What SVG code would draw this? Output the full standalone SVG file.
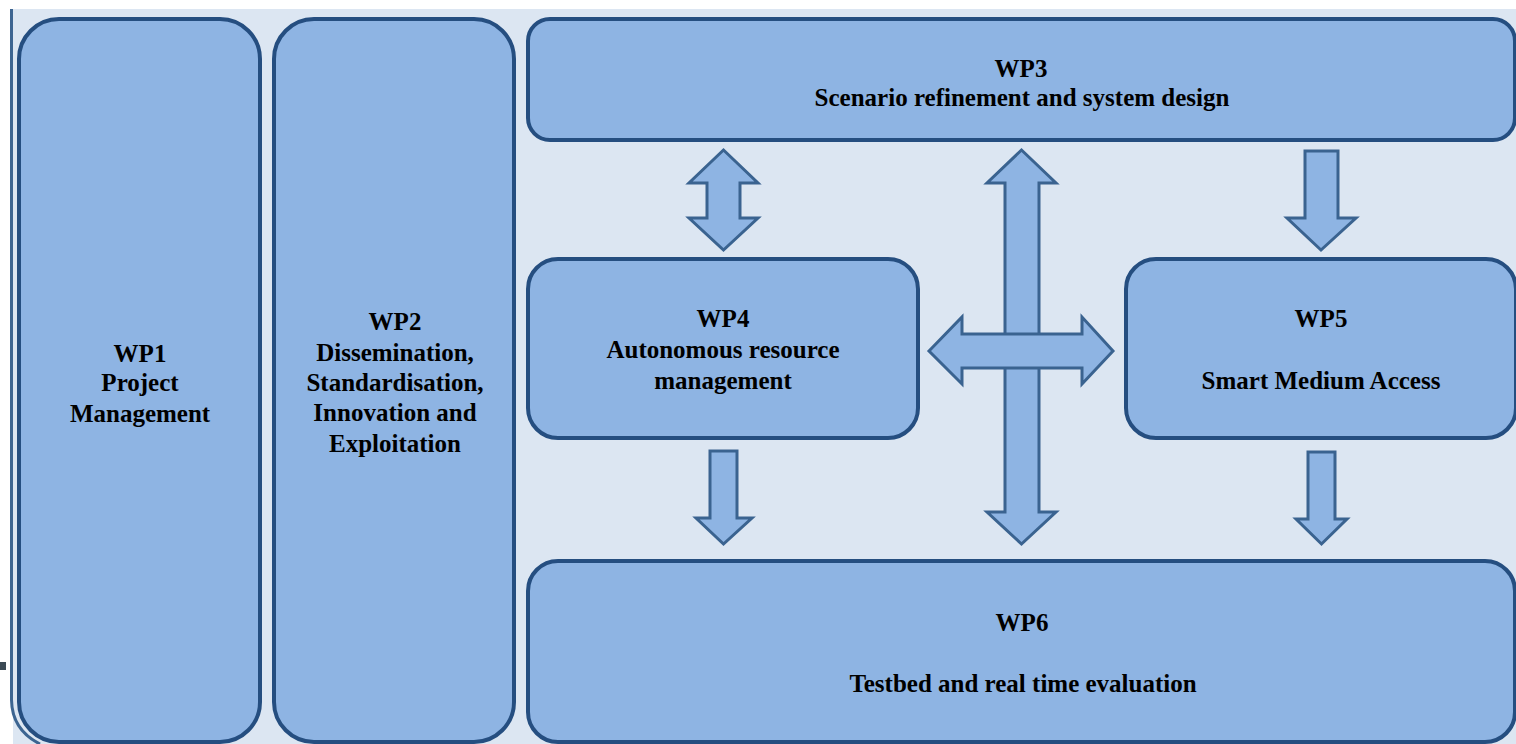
<svg xmlns="http://www.w3.org/2000/svg" width="1516" height="744" viewBox="0 0 1516 744">
<style>
.node{fill:#8EB4E3;stroke:#254E80;stroke-width:4}
.arr{fill:#8EB4E3;stroke:#3A6390;stroke-width:3;stroke-linejoin:miter}
text{font-family:"Liberation Serif","Times New Roman",serif;font-weight:bold;font-size:25px;fill:#000;text-anchor:middle}
</style>
<rect x="0" y="0" width="1516" height="744" fill="#FFFFFF"/>
<rect x="13" y="9" width="1503" height="735" fill="#DCE6F2"/>
<path d="M11.5 9 V700 Q12 730 40 744" fill="none" stroke="#3D6591" stroke-width="3"/>
<rect x="0" y="662" width="6" height="8" fill="#3C4A55"/>
<g id="wp1"><rect class="node" x="19" y="19" width="241" height="723" rx="40"/>
<text x="140" y="362">WP1</text><text x="140" y="391">Project</text><text x="140" y="422">Management</text></g>
<g id="wp2"><rect class="node" x="274" y="19" width="240" height="723" rx="40"/>
<text x="395" y="330">WP2</text><text x="395" y="361">Dissemination,</text><text x="395" y="391">Standardisation,</text><text x="395" y="421">Innovation and</text><text x="395" y="452">Exploitation</text></g>
<g id="wp3"><rect class="node" x="528" y="19" width="987" height="121" rx="22"/>
<text x="1021" y="77">WP3</text><text x="1022" y="106">Scenario refinement and system design</text></g>
<g id="wp4"><rect class="node" x="528" y="259" width="390" height="179" rx="30"/>
<text x="723" y="327">WP4</text><text x="723" y="358">Autonomous resource</text><text x="723" y="389">management</text></g>
<g id="wp5"><rect class="node" x="1126" y="259" width="390" height="179" rx="30"/>
<text x="1321" y="327">WP5</text><text x="1321" y="389">Smart Medium Access</text></g>
<g id="wp6"><rect class="node" x="528" y="561" width="987" height="181" rx="30"/>
<text x="1022" y="631">WP6</text><text x="1023" y="692">Testbed and real time evaluation</text></g>
<g id="connectors">
<path class="arr" d="M723.5 150 L758 183 L740 183 L740 218 L758 218 L723.5 250 L689 218 L707 218 L707 183 L689 183 Z"/>
<path class="arr" d="M1021.5 150 L1056 183 L1039 183 L1039 512 L1056 512 L1021.5 544 L987 512 L1005 512 L1005 183 L987 183 Z"/>
<path class="arr" d="M929 351 L962 317 L962 334 L1082 334 L1082 317 L1113 351 L1082 384 L1082 368 L962 368 L962 384 Z"/>
<path class="arr" d="M710 451 L737 451 L737 518 L752 518 L723.5 544 L696 518 L710 518 Z"/>
<path class="arr" d="M1305 151 L1338 151 L1338 218 L1356 218 L1321 250 L1287 218 L1305 218 Z"/>
<path class="arr" d="M1308 452 L1335 452 L1335 519 L1347 519 L1321.5 544 L1296 519 L1308 519 Z"/>
</g>
</svg>
